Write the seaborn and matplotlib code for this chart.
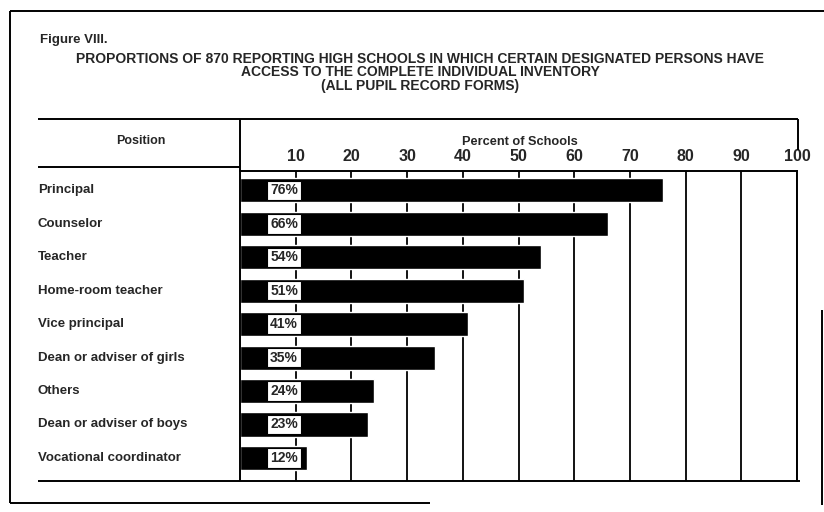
import matplotlib
matplotlib.use("Agg")
import matplotlib.pyplot as plt
import seaborn as sns
import pandas as pd
from matplotlib.lines import Line2D

# data
positions = ["Principal", "Counselor", "Teacher", "Home-room teacher", "Vice principal",
             "Dean or adviser of girls", "Others", "Dean or adviser of boys",
             "Vocational coordinator"]
percents = [76, 66, 54, 51, 41, 35, 24, 23, 12]
ticks = [10, 20, 30, 40, 50, 60, 70, 80, 90, 100]

fig_label = "Figure VIII."
title_lines = ["PROPORTIONS OF 870 REPORTING HIGH SCHOOLS IN WHICH CERTAIN DESIGNATED PERSONS HAVE",
               "ACCESS TO THE COMPLETE INDIVIDUAL INVENTORY",
               "(ALL PUPIL RECORD FORMS)"]

sns.set_style("white")
plt.rcParams['font.family'] = ['Liberation Sans', 'DejaVu Sans']
plt.rcParams['font.weight'] = 'bold'

W, H = 824, 512
fig = plt.figure(figsize=(W / 100, H / 100), dpi=100)


def fx(x):
    return x / W


def fy(y):
    return 1 - y / H


def fline(x0, y0, x1, y1, lw=1.4):
    fig.add_artist(Line2D([fx(x0), fx(x1)], [fy(y0), fy(y1)], transform=fig.transFigure,
                          color="black", lw=lw, solid_capstyle="butt"))


# axes area in pixels: x 240..797, y 171..481
ax = fig.add_axes([fx(240), fy(481), fx(797) - fx(240), fy(171) - fy(481)])

df = pd.DataFrame({"position": positions, "percent": percents})
sns.barplot(data=df, x="percent", y="position", color="black", width=0.72,
            orient="h", ax=ax, saturation=1)

ax.set_xlim(0, 100)
ax.set_ylim(len(positions) - 1 + 0.69, -0.58)
ax.set_xticks(ticks)
ax.set_xticklabels([str(t) for t in ticks], fontsize=11.5, fontweight="bold")
ax.xaxis.tick_top()
ax.tick_params(axis="x", length=0, pad=5)
ax.set_yticks([])
ax.set_xlabel("")
ax.set_ylabel("")
ax.grid(axis="x", color="black", lw=1.3)
ax.set_axisbelow(True)
for side in ["left", "bottom"]:
    ax.spines[side].set_visible(False)
for side in ["top", "right"]:
    ax.spines[side].set_color("black")
    ax.spines[side].set_linewidth(1.4)

# row labels and value boxes
for i, (name, v) in enumerate(zip(positions, percents)):
    ax.text(-0.3627, i, name, transform=ax.get_yaxis_transform(), ha="left", va="center",
            fontsize=9.5, fontweight="bold")
    ax.text(7.9, i, f"{v}%", ha="center", va="center", fontsize=10, fontweight="bold",
            bbox=dict(facecolor="white", edgecolor="black", lw=0.8, boxstyle="square,pad=0.2"))

# titles
fig.text(fx(40), fy(40), fig_label, fontsize=9.5, fontweight="bold", ha="left", va="center")
for y, line in zip([59, 72.5, 86], title_lines):
    fig.text(fx(420), fy(y), line, fontsize=10, fontweight="bold", ha="center", va="center")

fig.text(fx(141), fy(141), "Position", fontsize=9, fontweight="bold", ha="center", va="center")
fig.text(fx(520), fy(142), "Percent of Schools", fontsize=9.2, fontweight="bold",
         ha="center", va="center")

# table frame
fline(38, 119, 798, 119)
fline(798, 119, 798, 150)
fline(240, 119, 240, 481)
fline(38, 167, 240, 167)
fline(38, 481, 800, 481)

# outer page border
fline(10, 11, 824, 11)
fline(10, 11, 10, 503)
fline(10, 503, 430, 503)
fline(822, 310, 822, 505)

fig.savefig("out.png", dpi=100, facecolor="white")
